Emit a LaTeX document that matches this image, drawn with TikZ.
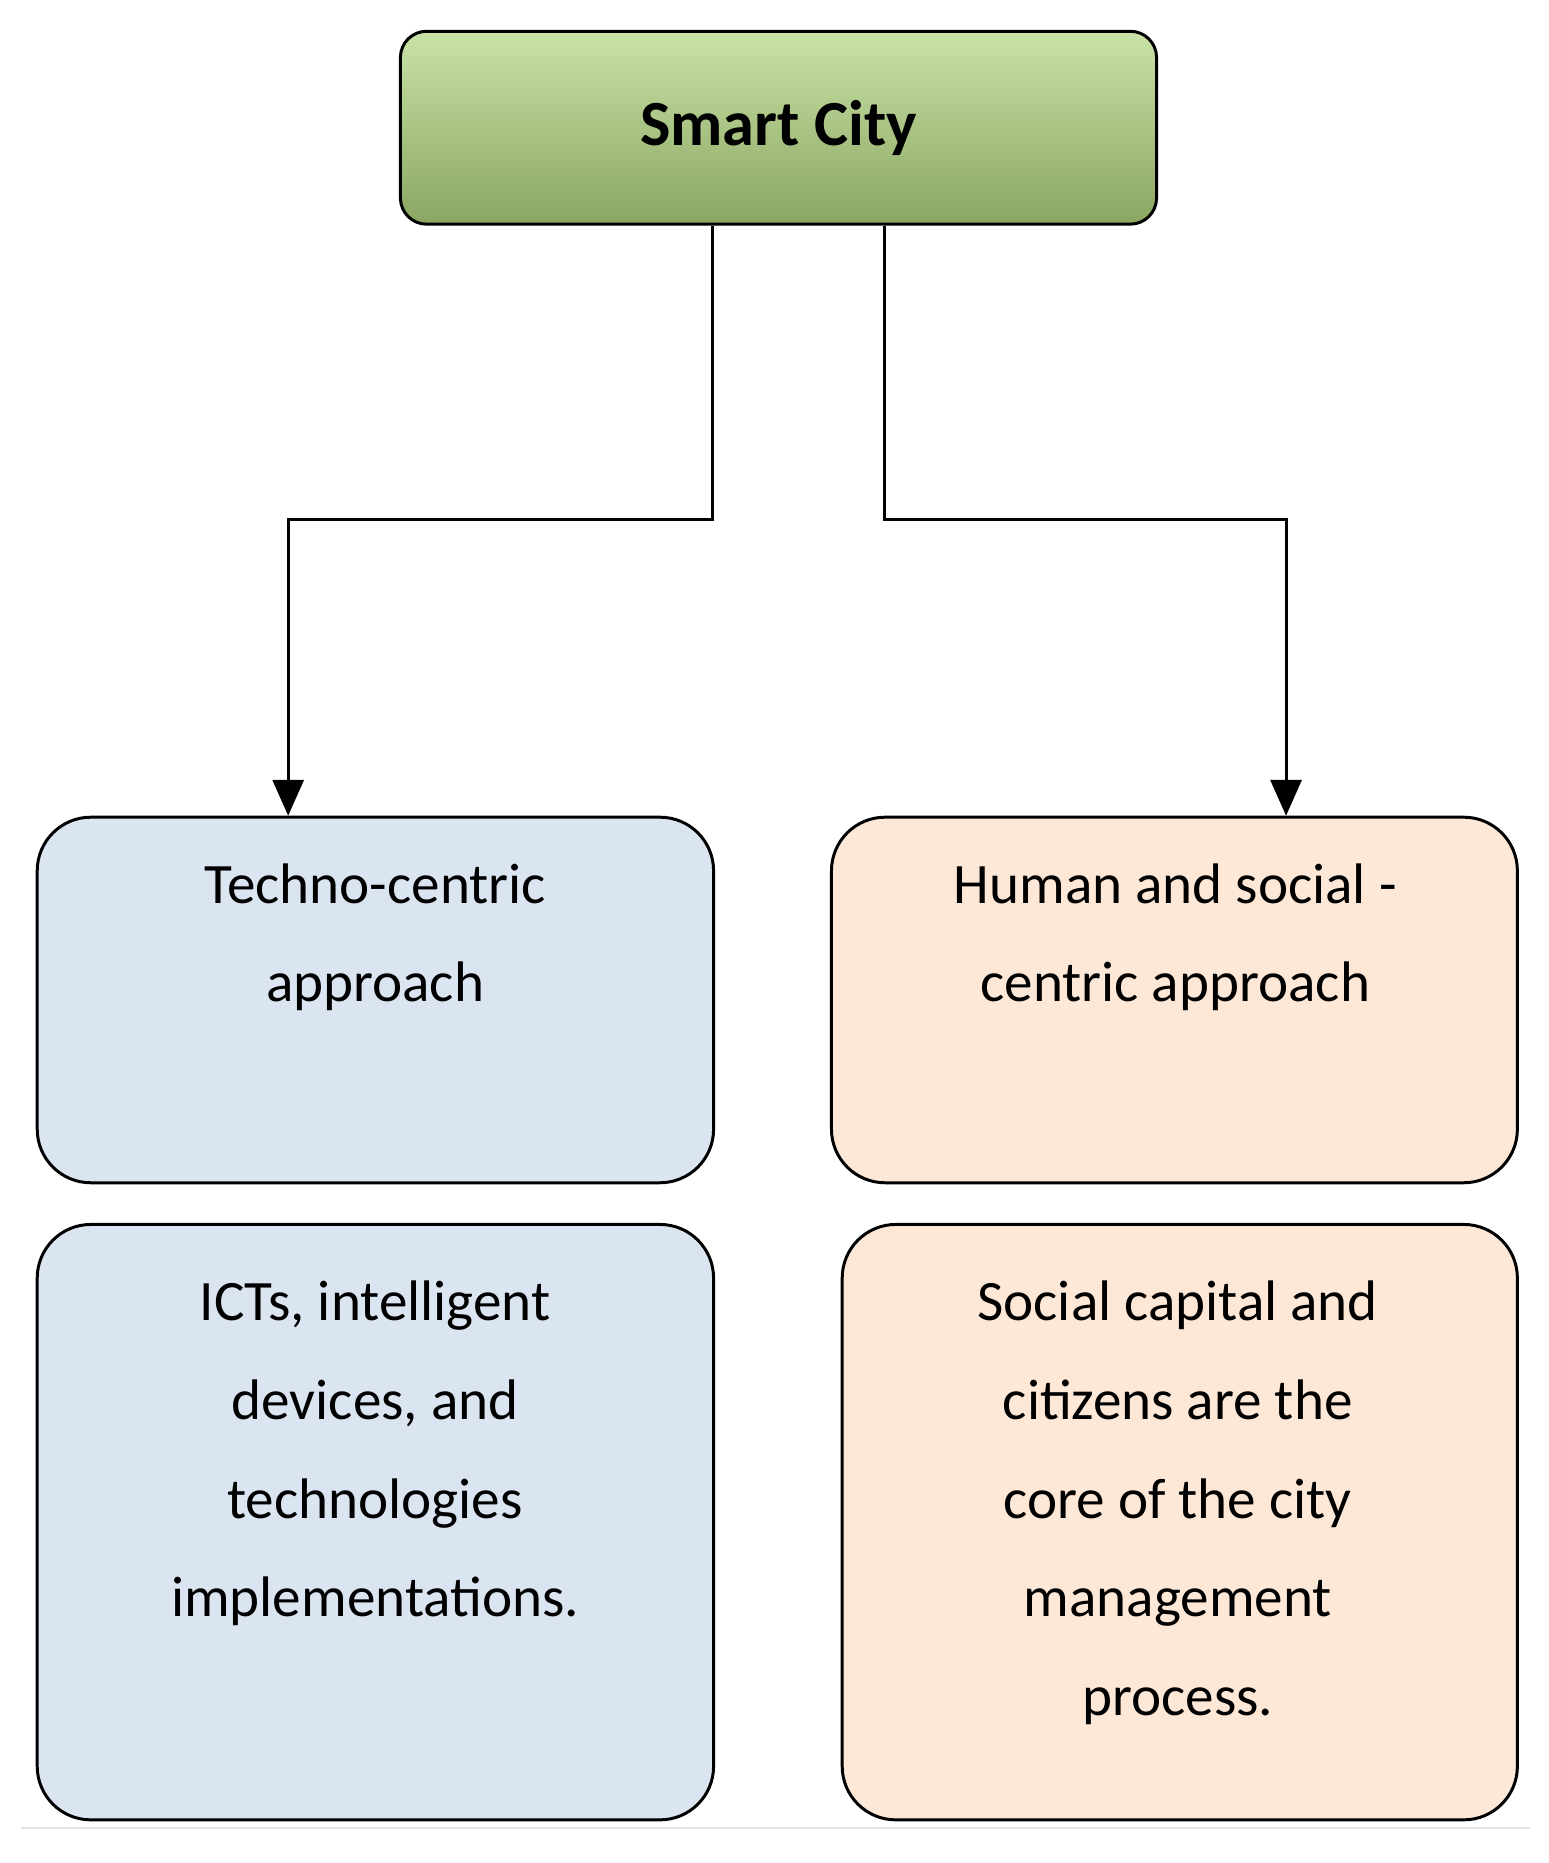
\documentclass[tikz,border=0pt]{standalone}
\usepackage{fontspec}
\setmainfont{Carlito}
\usetikzlibrary{arrows.meta}
\definecolor{bluef}{HTML}{DAE5F1}
\definecolor{orf}{HTML}{FDE8D8}
\definecolor{gtop}{HTML}{C9E2A6}
\definecolor{gbot}{HTML}{8AA662}
\tikzset{
 box/.style={draw=black,line width=2.5pt,rounded corners=45pt,align=center,font=\fontsize{48}{82}\selectfont,inner sep=0pt,anchor=north west},
 conn/.style={line width=2.5pt,-{Triangle[length=30pt,width=26pt]}},
 lin/.style={line width=2.5pt}
}
\begin{document}
\begin{tikzpicture}[x=1pt,y=-1pt]
\useasboundingbox (0,0) rectangle (1300,1564.5);
\node[box,rounded corners=22pt,top color=gtop,bottom color=gbot,minimum width=635pt,minimum height=162pt,font=\fontsize{54}{60}\selectfont\bfseries] (sc) at (335,25) {Smart City};
\node[box,fill=bluef,minimum width=568pt,minimum height=307pt] (b1) at (30,685) {};
\node[box,fill=orf,minimum width=576pt,minimum height=307pt] (o1) at (697,685) {};
\node[box,fill=bluef,minimum width=568pt,minimum height=500pt] (b2) at (30,1027) {};
\node[box,fill=orf,minimum width=567pt,minimum height=500pt] (o2) at (706,1027) {};
\node[align=center,font=\fontsize{48}{82}\selectfont,anchor=north] (t1) at (315,722) {Techno-centric\\approach};
\node[align=center,font=\fontsize{48}{82}\selectfont,anchor=north] (t2) at (987,722) {Human and social -\\centric approach};
\node[align=center,font=\fontsize{48}{83}\selectfont,anchor=north] (t3) at (315,1072) {ICTs, intelligent\\devices, and\\technologies\\implementations.};
\node[align=center,font=\fontsize{48}{83}\selectfont,anchor=north] (t4) at (989,1072) {Social capital and\\citizens are the\\core of the city\\management\\process.};
\coordinate (c1) at (598,436);
\coordinate (c2) at (743,436);
\draw[conn] (sc.south west -| c1) -- (c1) -- (242,436) -- (b1.north west -| 242,0);
\draw[conn] (sc.south west -| c2) -- (c2) -- (1080,436) -- (o1.north -| 1080,0);
\draw[black!10,line width=2pt] (18,1535) -- (1285,1535);
\end{tikzpicture}
\end{document}
